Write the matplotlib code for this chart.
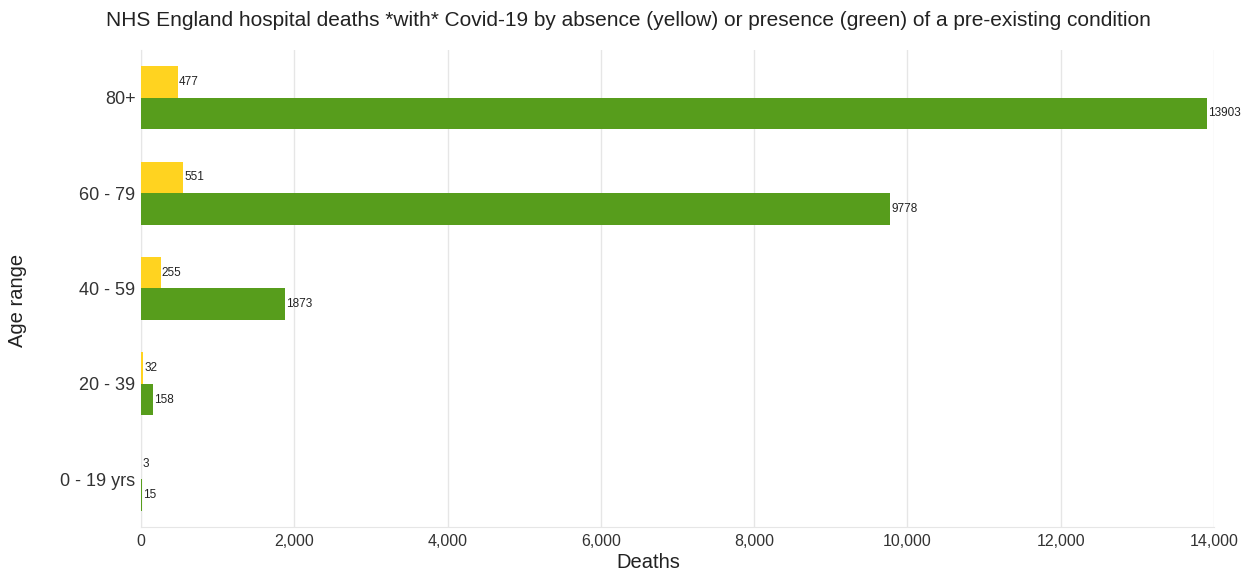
import matplotlib
matplotlib.use("Agg")
import matplotlib.pyplot as plt
from matplotlib.ticker import FuncFormatter
import numpy as np

categories = ["0 - 19 yrs", "20 - 39", "40 - 59", "60 - 79", "80+"]
no_condition = [3, 32, 255, 551, 477]
with_condition = [15, 158, 1873, 9778, 13903]
xticks = [0, 2000, 4000, 6000, 8000, 10000, 12000, 14000]

plt.rcParams['font.family'] = ['Liberation Sans', 'DejaVu Sans']

W, H = 1252, 571
fig = plt.figure(figsize=(W / 100, H / 100), dpi=100)
ax = fig.add_axes([141 / W, 1 - 527 / H, (1214 - 141) / W, (527 - 50) / H])

y = np.arange(len(categories))
h = 0.33
yellow = "#FFD320"
green = "#579D1C"
ax.barh(y + h / 2, no_condition, height=h, color=yellow, linewidth=0, zorder=3)
ax.barh(y - h / 2, with_condition, height=h, color=green, linewidth=0, zorder=3)

for yi, v in zip(y, no_condition):
    ax.text(v + 15, yi + h / 2, str(v), va="center", ha="left", fontsize=8.5, color="#222222", zorder=4)
for yi, v in zip(y, with_condition):
    ax.text(v + 15, yi - h / 2, str(v), va="center", ha="left", fontsize=8.5, color="#222222", zorder=4)

ax.set_xlim(0, 14000)
ax.set_ylim(-0.5, 4.5)
ax.set_xticks(xticks)
ax.xaxis.set_major_formatter(FuncFormatter(lambda v, p: f"{int(v):,}"))
ax.set_yticks(y)
ax.set_yticklabels(categories)
ax.tick_params(axis="x", length=0, labelsize=11.5, colors="#333333", pad=5)
ax.tick_params(axis="y", length=0, labelsize=13, colors="#333333", pad=4)
ax.grid(axis="x", color="#e6e6e6", linewidth=1, zorder=0)
for s in ["top", "right"]:
    ax.spines[s].set_visible(False)
ax.spines["left"].set_color("#e6e6e6")
ax.spines["bottom"].set_color("#e6e6e6")

fig.text(648 / W, 1 - 563 / H, "Deaths", ha="center", va="center", fontsize=14.5, color="#222222")
fig.text(18 / W, 1 - 300 / H, "Age range", ha="center", va="center", rotation=90, fontsize=14.5, color="#222222")
fig.text(628 / W, 1 - 20 / H, "NHS England hospital deaths *with* Covid-19 by absence (yellow) or presence (green) of a pre-existing condition",
         ha="center", va="center", fontsize=15, color="#222222")

fig.savefig("out.png", dpi=100)
